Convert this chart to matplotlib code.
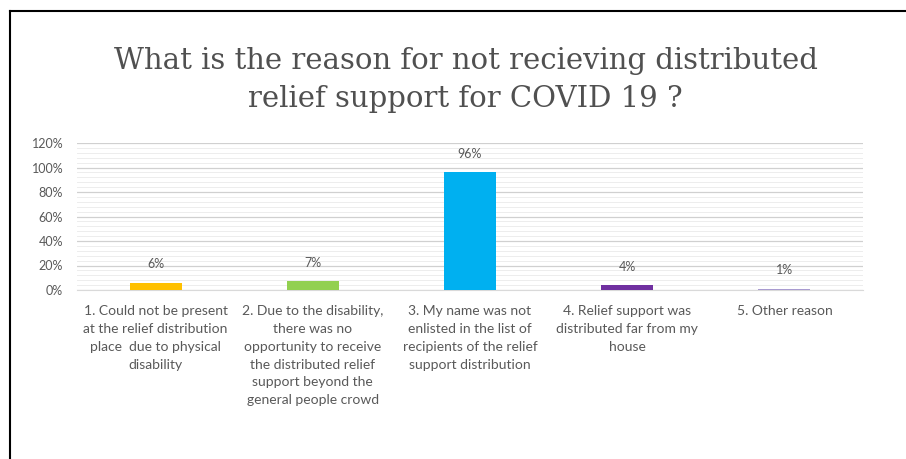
'''
Reasons for not receiving distributed COVID 19 relief support
'''
import numpy as np
import matplotlib.pyplot as plt
from matplotlib.lines import Line2D
from matplotlib.ticker import MultipleLocator, PercentFormatter

# chart data
categories = [
    "1. Could not be present\nat the relief distribution\nplace  due to physical\ndisability",
    "2. Due to the disability,\nthere was no\nopportunity to receive\nthe distributed relief\nsupport beyond the\ngeneral people crowd",
    "3. My name was not\nenlisted in the list of\nrecipients of the relief\nsupport distribution",
    "4. Relief support was\ndistributed far from my\nhouse",
    "5. Other reason",
]
values = [6, 7, 96, 4, 1]
bar_colors = ["#FFC000", "#92D050", "#00B0F0", "#7030A0", "#A99BD0"]
title = "What is the reason for not recieving distributed\nrelief support for COVID 19 ?"

plt.rcParams['font.family'] = ['Lato', 'DejaVu Sans']

fig = plt.figure(figsize=(9.06, 4.59), dpi=100)
ax = fig.add_axes([77 / 906, 1 - 290 / 459, 786 / 906, 147 / 459])

x = np.arange(len(values))
ax.bar(x, values, width=0.33, color=bar_colors, zorder=3)

# value labels above bars
for xi, v in zip(x, values):
    ax.annotate(f"{v}%", (xi, v), xytext=(0, 9), textcoords="offset points",
                ha="center", va="bottom", fontsize=9, color="#595959")

ax.set_xlim(-0.5, len(values) - 0.5)
ax.set_ylim(0, 120)
ax.yaxis.set_major_locator(MultipleLocator(20))
ax.yaxis.set_minor_locator(MultipleLocator(4))
ax.yaxis.set_major_formatter(PercentFormatter(decimals=0))
ax.grid(axis="y", which="major", color="#D0D0D0", linewidth=0.9, zorder=0)
ax.grid(axis="y", which="minor", color="#EDEDED", linewidth=0.7, zorder=0)

ax.set_xticks(x)
ax.set_xticklabels(categories, fontsize=10, color="#595959", linespacing=1.58)
ax.tick_params(axis="y", labelsize=9, colors="#595959", length=0, pad=10, which="both")
ax.tick_params(axis="x", length=0, pad=11)
for side in ["top", "right", "left"]:
    ax.spines[side].set_visible(False)
ax.spines["bottom"].set_color("#D9D9D9")

fig.text(0.514, 1 - 80 / 459, title, ha="center", va="center", fontsize=21,
         family="DejaVu Serif", color="#505050", linespacing=1.45)

# border lines (left and top)
fig.add_artist(Line2D([10 / 906, 10 / 906], [0, 1 - 11 / 459], color="black", linewidth=1.5))
fig.add_artist(Line2D([10 / 906, 1], [1 - 11 / 459, 1 - 11 / 459], color="black", linewidth=1.5))

fig.savefig("out.png", dpi=100)
